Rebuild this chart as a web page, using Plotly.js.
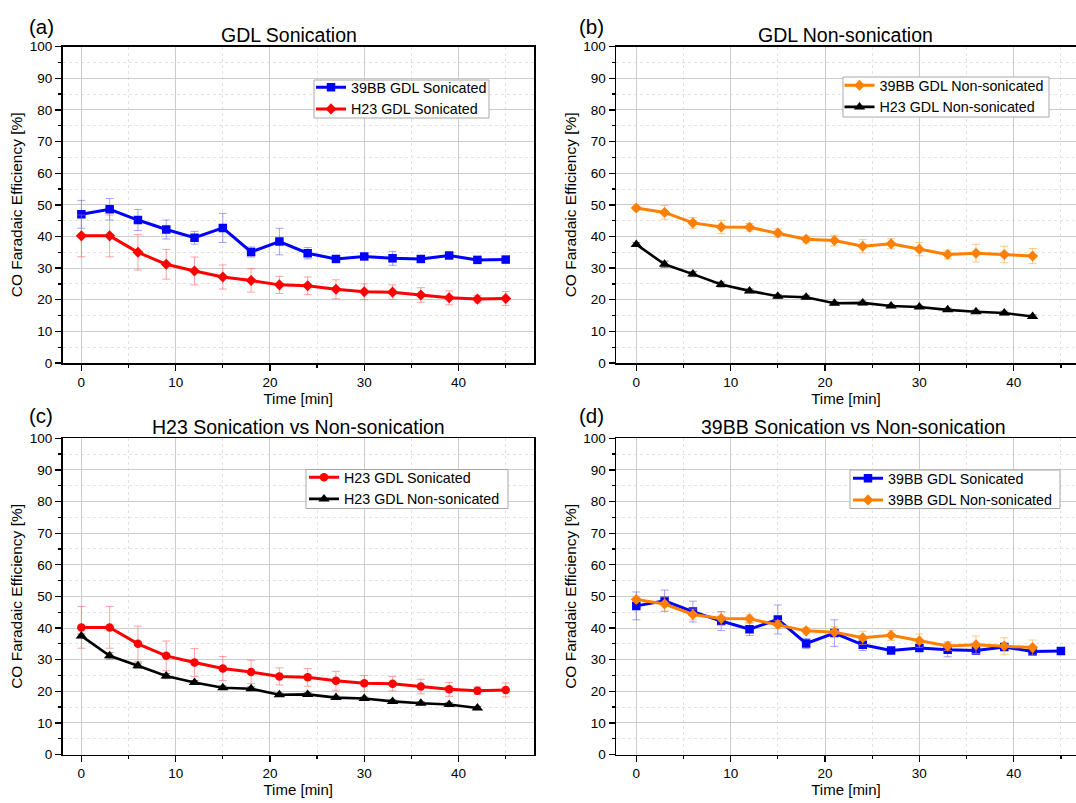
<!DOCTYPE html>
<html>
<head>
<meta charset="utf-8">
<script src="https://cdn.plot.ly/plotly-3.0.1.min.js"></script>
<style>
html,body{margin:0;padding:0;background:#fff;}
#chart{width:1076px;height:803px;}
</style>
</head>
<body>
<div id="chart"></div>
<script>
// ---- data ----
const timeSonicated = [0, 3, 6, 9, 12, 15, 18, 21, 24, 27, 30, 33, 36, 39, 42, 45];
const timeNonSonicated = [0, 3, 6, 9, 12, 15, 18, 21, 24, 27, 30, 33, 36, 39, 42];

const fe39BBSonicated = [47.0, 48.6, 45.2, 42.2, 39.6, 42.7, 35.1, 38.4, 34.7, 32.9, 33.7, 33.1, 32.9, 34.0, 32.6, 32.7];
const err39BBSonicated = [4.4, 3.4, 3.3, 3.0, 2.0, 4.6, 1.6, 4.2, 1.8, 0.8, 0.8, 2.2, 0.8, 0.8, 0.6, 0.6];

const feH23Sonicated = [40.2, 40.2, 35.0, 31.2, 29.1, 27.2, 26.1, 24.7, 24.4, 23.3, 22.5, 22.4, 21.5, 20.6, 20.2, 20.4];
const errH23Sonicated = [6.6, 6.6, 5.6, 4.7, 4.4, 3.8, 3.7, 2.7, 2.8, 3.0, 2.5, 2.3, 2.3, 2.2, 1.2, 2.2];

const fe39BBNonSonicated = [49.0, 47.6, 44.3, 43.0, 42.9, 41.1, 39.1, 38.7, 36.9, 37.7, 36.0, 34.3, 34.7, 34.3, 33.8];
const err39BBNonSonicated = [0.5, 2.2, 1.7, 2.1, 1.2, 1.3, 1.0, 1.7, 2.1, 1.6, 2.1, 1.4, 2.8, 2.6, 2.4];

const feH23NonSonicated = [37.5, 31.2, 28.1, 24.8, 22.8, 21.1, 20.8, 18.9, 19.0, 18.0, 17.7, 16.8, 16.2, 15.8, 14.7];
const errH23NonSonicated = [0.6, 1.0, 0.8, 0.8, 0.6, 0.6, 0.6, 0.5, 0.6, 0.5, 0.5, 0.5, 0.5, 0.6, 0.5];

const panelLetters = ['(a)', '(b)', '(c)', '(d)'];
const panelTitles = ['GDL Sonication', 'GDL Non-sonication', 'H23 Sonication vs Non-sonication', '39BB Sonication vs Non-sonication'];
const xTitle = 'Time [min]';
const yTitle = 'CO Faradaic Efficiency [%]';
const names = {
  bbSon: '39BB GDL Sonicated',
  h23Son: 'H23 GDL Sonicated',
  bbNon: '39BB GDL Non-sonicated',
  h23Non: 'H23 GDL Non-sonicated'
};

// ---- styles ----
const W = 1076, H = 803;
const FONT = '"Liberation Sans", Arial, sans-serif';
const BLUE = '#0000ff', RED = '#ff0000', ORANGE = '#ff8000', BLACK = '#000000';
const styles = {
  bbSon: {color: BLUE, symbol: 'square', size: 8.5, err: 'rgba(90,90,255,0.55)', lw: 3},
  h23SonD: {color: RED, symbol: 'diamond', size: 8.5, err: 'rgba(255,90,90,0.55)', lw: 3},
  h23SonC: {color: RED, symbol: 'circle', size: 8.5, err: 'rgba(255,90,90,0.55)', lw: 3},
  bbNon: {color: ORANGE, symbol: 'diamond', size: 8.5, err: 'rgba(255,165,70,0.6)', lw: 3},
  h23Non: {color: BLACK, symbol: 'triangle-up', size: 10, err: 'rgba(60,60,60,0.6)', lw: 2.6}
};

function series(x, y, e, name, st, ax, leg) {
  return {
    type: 'scatter', mode: 'lines+markers', x: x, y: y, name: name,
    xaxis: 'x' + ax, yaxis: 'y' + ax, legend: leg,
    line: {color: st.color, width: st.lw},
    marker: {color: st.color, symbol: st.symbol, size: st.size},
    error_y: {type: 'data', array: e, visible: true, color: st.err, thickness: 1, width: 4}
  };
}

const traces = [
  series(timeSonicated, fe39BBSonicated, err39BBSonicated, names.bbSon, styles.bbSon, '', 'legend'),
  series(timeSonicated, feH23Sonicated, errH23Sonicated, names.h23Son, styles.h23SonD, '', 'legend'),
  series(timeNonSonicated, fe39BBNonSonicated, err39BBNonSonicated, names.bbNon, styles.bbNon, '2', 'legend2'),
  series(timeNonSonicated, feH23NonSonicated, errH23NonSonicated, names.h23Non, styles.h23Non, '2', 'legend2'),
  series(timeSonicated, feH23Sonicated, errH23Sonicated, names.h23Son, styles.h23SonC, '3', 'legend3'),
  series(timeNonSonicated, feH23NonSonicated, errH23NonSonicated, names.h23Non, styles.h23Non, '3', 'legend3'),
  series(timeSonicated, fe39BBSonicated, err39BBSonicated, names.bbSon, styles.bbSon, '4', 'legend4'),
  series(timeNonSonicated, fe39BBNonSonicated, err39BBNonSonicated, names.bbNon, styles.bbNon, '4', 'legend4')
];

// pixel geometry of the four plot frames
const frames = [
  {l: 62.5, r: 534, t: 46.7, b: 363, xr: [-2, 48]},
  {l: 616, r: 1076, t: 46.7, b: 363, xr: [-2.15, 46.6]},
  {l: 62.5, r: 534, t: 438.3, b: 754.5, xr: [-2, 48]},
  {l: 616, r: 1076, t: 438.3, b: 754.5, xr: [-2.15, 46.6]}
];

function xAxis(f, anchor) {
  return {
    domain: [f.l / W, Math.min(1, f.r / W)], anchor: anchor, range: f.xr,
    showline: true, mirror: true, linecolor: '#000', linewidth: 1.5,
    ticks: 'outside', ticklen: 6, tickwidth: 1.3, tickcolor: '#000',
    dtick: 10, tick0: 0, showgrid: true, gridcolor: '#cccccc', gridwidth: 1, zeroline: false,
    tickfont: {family: FONT, size: 13.5, color: '#000'},
    minor: {dtick: 5, tick0: 0, ticks: 'outside', ticklen: 3, tickwidth: 1.3, tickcolor: '#000',
            showgrid: true, gridcolor: '#e3e3e3', griddash: 'dot', gridwidth: 1},
    title: {text: xTitle, font: {family: FONT, size: 15, color: '#000'}, standoff: 3},
    fixedrange: true
  };
}
function yAxis(f, anchor) {
  return {
    domain: [1 - f.b / H, 1 - f.t / H], anchor: anchor, range: [0, 100],
    showline: true, mirror: true, linecolor: '#000', linewidth: 1.5,
    ticks: 'outside', ticklen: 6, tickwidth: 1.3, tickcolor: '#000',
    dtick: 10, tick0: 0, showgrid: true, gridcolor: '#cccccc', gridwidth: 1, zeroline: false,
    tickfont: {family: FONT, size: 13.5, color: '#000'},
    minor: {dtick: 5, tick0: 0, ticks: 'outside', ticklen: 3, tickwidth: 1.3, tickcolor: '#000',
            showgrid: true, gridcolor: '#e3e3e3', griddash: 'dot', gridwidth: 1},
    title: {text: yTitle, font: {family: FONT, size: 15.5, color: '#000'}, standoff: 3},
    fixedrange: true
  };
}

// legend placement (px of the legend origin) and the framed box drawn around it
const legendOrigins = [[311, 71.5], [839.5, 69.5], [304, 461.5], [848, 462.5]];
const legendBoxes = [[314, 80, 489, 118], [843, 77, 1049, 117], [306, 469.5, 508, 508.5], [850, 470, 1060, 508.5]];

function legendAt(p) {
  return {
    x: p[0] / W, y: 1 - p[1] / H, xref: 'paper', yref: 'paper', xanchor: 'left', yanchor: 'top',
    bgcolor: 'rgba(0,0,0,0)', borderwidth: 0,
    font: {family: FONT, size: 14.3, color: '#000'}, traceorder: 'normal', tracegroupgap: 0
  };
}

const shapes = legendBoxes.map(b => ({
  type: 'rect', xref: 'paper', yref: 'paper', layer: 'above',
  x0: b[0] / W, x1: b[2] / W, y0: 1 - b[3] / H, y1: 1 - b[1] / H,
  fillcolor: '#ffffff', line: {color: '#a8a8a8', width: 1}
}));

const letterPos = [[41, 26], [591, 26], [41, 416], [591, 416]];
const titlePos = [[289, 35], [845, 35], [298, 427], [853, 427]];
const annotations = [];
for (let i = 0; i < 4; i++) {
  annotations.push({text: panelLetters[i], x: letterPos[i][0] / W, y: 1 - letterPos[i][1] / H,
    xref: 'paper', yref: 'paper', xanchor: 'center', yanchor: 'middle', showarrow: false,
    font: {family: FONT, size: 20.5, color: '#000'}});
  annotations.push({text: panelTitles[i], x: titlePos[i][0] / W, y: 1 - titlePos[i][1] / H,
    xref: 'paper', yref: 'paper', xanchor: 'center', yanchor: 'middle', showarrow: false,
    font: {family: FONT, size: 19.5, color: '#000'}});
}

const layout = {
  width: W, height: H, margin: {l: 0, r: 0, t: 0, b: 0},
  paper_bgcolor: '#ffffff', plot_bgcolor: '#ffffff',
  font: {family: FONT, color: '#000'},
  showlegend: true,
  xaxis: xAxis(frames[0], 'y'), yaxis: yAxis(frames[0], 'x'),
  xaxis2: xAxis(frames[1], 'y2'), yaxis2: yAxis(frames[1], 'x2'),
  xaxis3: xAxis(frames[2], 'y3'), yaxis3: yAxis(frames[2], 'x3'),
  xaxis4: xAxis(frames[3], 'y4'), yaxis4: yAxis(frames[3], 'x4'),
  legend: legendAt(legendOrigins[0]),
  legend2: legendAt(legendOrigins[1]),
  legend3: legendAt(legendOrigins[2]),
  legend4: legendAt(legendOrigins[3]),
  shapes: shapes,
  annotations: annotations
};

Plotly.newPlot('chart', traces, layout, {displayModeBar: false, staticPlot: true});
</script>
</body>
</html>
